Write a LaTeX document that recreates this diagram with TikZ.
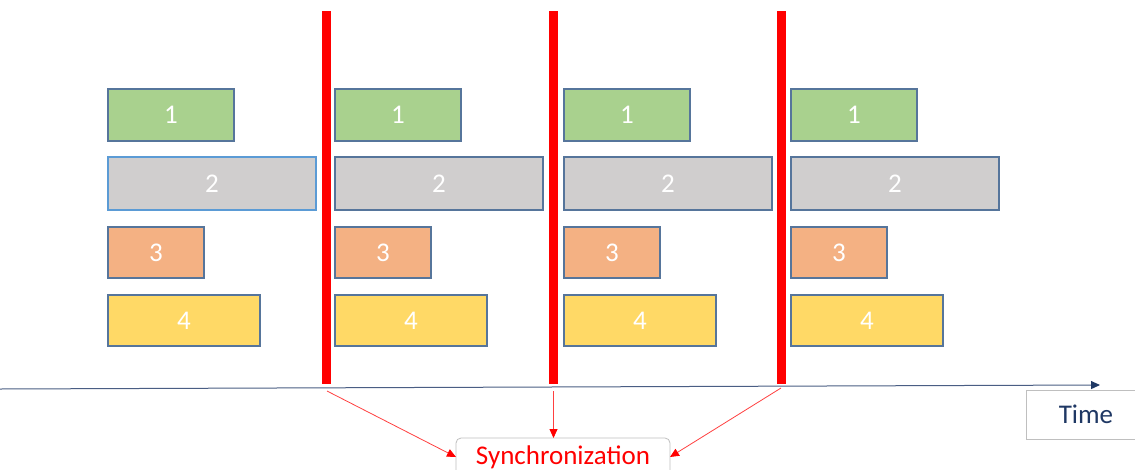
\documentclass[tikz,border=0pt]{standalone}
\usepackage{fontspec}
\setmainfont{Carlito}
\usetikzlibrary{arrows.meta,calc}
\definecolor{cgreen}{HTML}{A9D18E}
\definecolor{cgray}{HTML}{D0CECE}
\definecolor{corange}{HTML}{F4B183}
\definecolor{cyellow}{HTML}{FFD966}
\definecolor{cborder}{HTML}{56759B}
\definecolor{clight}{HTML}{5B9BD5}
\definecolor{caxis}{HTML}{4A5E84}
\definecolor{cnavy}{HTML}{1F3864}
\definecolor{csync}{HTML}{FF4040}
\begin{document}
\begin{tikzpicture}[x=1pt,y=-1pt,
  task/.style={draw=cborder, line width=1.1pt, inner sep=0pt, outer sep=0pt,
    text=white, font=\fontsize{27}{32}\selectfont, anchor=north west},
  syncbar/.style={fill=red, draw=none, inner sep=0pt, outer sep=0pt,
    minimum width=9pt, minimum height=373pt, anchor=north},
  axisline/.style={draw=caxis, line width=1pt, -{Triangle[length=9pt,width=8pt,color=cnavy]}},
  syncarrow/.style={draw=csync, line width=0.8pt, -{Triangle[length=9pt,width=8pt,color=red]}},
  labelbox/.style={draw=black!25, line width=0.8pt, inner sep=0pt, outer sep=0pt, anchor=north west}
]
\useasboundingbox (0,0) rectangle (1135,469);
\fill[white] (0,0) rectangle (1135,469);

\foreach \c/\x in {1/108,2/335,3/564,4/791}{
  \node[task, fill=cgreen, minimum width=126pt, minimum height=52pt] (a\c) at (\x,89) {1};
  \node[task, fill=cgray, minimum width=208pt, minimum height=53pt] (b\c) at (\x,157) {2};
  \node[task, fill=corange, minimum width=96pt, minimum height=51pt] (o\c) at (\x,227) {3};
  \node[task, fill=cyellow, minimum width=152pt, minimum height=51pt] (y\c) at (\x,295) {4};
}
\draw[draw=clight, line width=1.1pt] (b1.north west) rectangle (b1.south east);

\node[syncbar] (bar1) at (326.5,11) {};
\node[syncbar] (bar2) at (553.5,11) {};
\node[syncbar] (bar3) at (781.5,11) {};

\coordinate (axL) at (0,389);
\coordinate (axR) at (1100,385);
\draw[axisline] (axL) -- (axR);

\node[labelbox, minimum width=120pt, minimum height=49pt, text=cnavy,
  font=\fontsize{27}{32}\selectfont] (time) at (1026,390) {Time};

\node[labelbox, rounded corners=5pt, minimum width=214pt, minimum height=38pt,
  text=red, font=\fontsize{27}{32}\selectfont] (sync) at (456,438) {Synchronization};

\coordinate (s1) at ($(bar1.south)+(0.5,7)$);
\coordinate (s2) at ($(bar2.south)+(0,7)$);
\coordinate (s3) at ($(bar3.south)+(-0.5,4)$);
\draw[syncarrow] (s1) -- (sync.west);
\draw[syncarrow] (s2) -- (s2 |- sync.north);
\draw[syncarrow] (s3) -- (sync.east);
\end{tikzpicture}
\end{document}
